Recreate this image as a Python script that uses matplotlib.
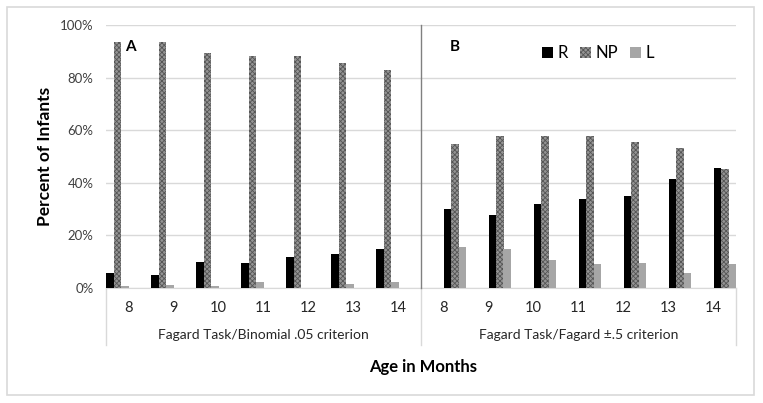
import numpy as np
import matplotlib.pyplot as plt
from matplotlib.patches import Patch, Rectangle
from matplotlib.lines import Line2D

plt.rcParams['font.family'] = ['Lato', 'DejaVu Sans']
plt.rcParams['hatch.linewidth'] = 0.6

# data (percent of infants)
ages = ['8', '9', '10', '11', '12', '13', '14']
groups = ['Fagard Task/Binomial .05 criterion', 'Fagard Task/Fagard \u00b1.5 criterion']
series = ['R', 'NP', 'L']

# panel A: binomial .05 criterion
a_R = [5.6, 4.7, 9.6, 9.4, 11.5, 13.0, 14.8]
a_NP = [93.4, 93.4, 89.5, 88.2, 88.2, 85.5, 82.8]
a_L = [0.5, 1.1, 0.5, 2.0, 0.0, 1.4, 2.0]

# panel B: Fagard +-.5 criterion
b_R = [29.8, 27.6, 31.9, 33.7, 34.9, 41.4, 45.6]
b_NP = [54.6, 57.7, 57.7, 57.7, 55.5, 53.1, 45.1]
b_L = [15.6, 14.7, 10.4, 8.9, 9.5, 5.5, 9.2]

colR = '#000000'
colNP = '#949494'
colL = '#a6a6a6'

fig = plt.figure(figsize=(7.63, 4.03), dpi=100)
# outer chart border
fig.patches.append(Rectangle((7 / 763, 1 - 395 / 403), 747 / 763, 388 / 403,
                             transform=fig.transFigure, fill=False,
                             edgecolor='#d9d9d9', linewidth=1.2))

ax = fig.add_axes([106 / 763, 1 - 287.7 / 403, 630 / 763, 262.7 / 403])

w = 1.0 / 6
n = len(ages)
xa = np.arange(n)
xb = np.arange(n) + n

# 6 slots per category, panel A uses the first three, panel B the last three
for k, (vals_a, vals_b, c) in enumerate(zip([a_R, a_NP, a_L], [b_R, b_NP, b_L], [colR, colNP, colL])):
    hatch = 'xxxxxxx' if k == 1 else None
    ec = '#555555' if k == 1 else c
    ax.bar(xa - 0.5 + (k + 0.5) * w, np.array(vals_a) / 100, width=w, color=c,
           hatch=hatch, edgecolor=ec, linewidth=0, zorder=3)
    ax.bar(xb - 0.5 + (k + 3.5) * w, np.array(vals_b) / 100, width=w, color=c,
           hatch=hatch, edgecolor=ec, linewidth=0, zorder=3)

ax.set_xlim(-0.5, 2 * n - 0.5)
ax.set_ylim(0, 1)
ax.set_yticks(np.arange(0, 1.01, 0.2))
ax.set_yticklabels(['0%', '20%', '40%', '60%', '80%', '100%'], fontsize=9.5, color='#404040')
ax.tick_params(axis='y', length=0, pad=9)
ax.grid(axis='y', color='#d9d9d9', linewidth=1.0, zorder=0)
ax.set_xticks([])
for s in ['top', 'right', 'left']:
    ax.spines[s].set_visible(False)
ax.spines['bottom'].set_color('#d9d9d9')

tr = ax.get_xaxis_transform()
# category labels
for i, lab in enumerate(ages + ages):
    ax.text(i, -0.076, lab, transform=tr, ha='center', va='center', fontsize=10.5, color='#262626')
# group labels
ax.text(3, -0.18, groups[0], transform=tr, ha='center', va='center', fontsize=10, color='#262626')
ax.text(10, -0.18, groups[1], transform=tr, ha='center', va='center', fontsize=10, color='#262626')

# group separators below the axis
for xs in [-0.5, n - 0.5, 2 * n - 0.5]:
    ax.add_line(Line2D([xs, xs], [0, -0.218], transform=tr, color='#d9d9d9',
                       linewidth=1.0, clip_on=False))
# dark panel divider
ax.add_line(Line2D([n - 0.5, n - 0.5], [0, 1.0], transform=tr, color='#808080',
                   linewidth=1.0, clip_on=False, zorder=4))

ax.text(130 / 763, 1 - 47 / 403, 'A', transform=fig.transFigure, ha='center', va='center',
        fontsize=11, fontweight='bold')
ax.text(455 / 763, 1 - 47 / 403, 'B', transform=fig.transFigure, ha='center', va='center',
        fontsize=11, fontweight='bold')

fig.text(45 / 763, 1 - 156 / 403, 'Percent of Infants', rotation=90, ha='center', va='center',
         fontsize=12.5, fontweight='bold')
fig.text(423 / 763, 1 - 367 / 403, 'Age in Months', ha='center', va='center',
         fontsize=12, fontweight='bold')

handles = [Patch(facecolor=colR, edgecolor=colR, linewidth=0),
           Patch(facecolor=colNP, hatch='xxxxxxx', edgecolor='#555555', linewidth=0),
           Patch(facecolor=colL, edgecolor=colL, linewidth=0)]
fig.legend(handles, series, loc='center', bbox_to_anchor=(598 / 763, 1 - 53 / 403), ncol=3,
           frameon=False, fontsize=12, handlelength=0.65, handleheight=0.65,
           handletextpad=0.3, columnspacing=0.7)

fig.savefig('out.png', dpi=100)
